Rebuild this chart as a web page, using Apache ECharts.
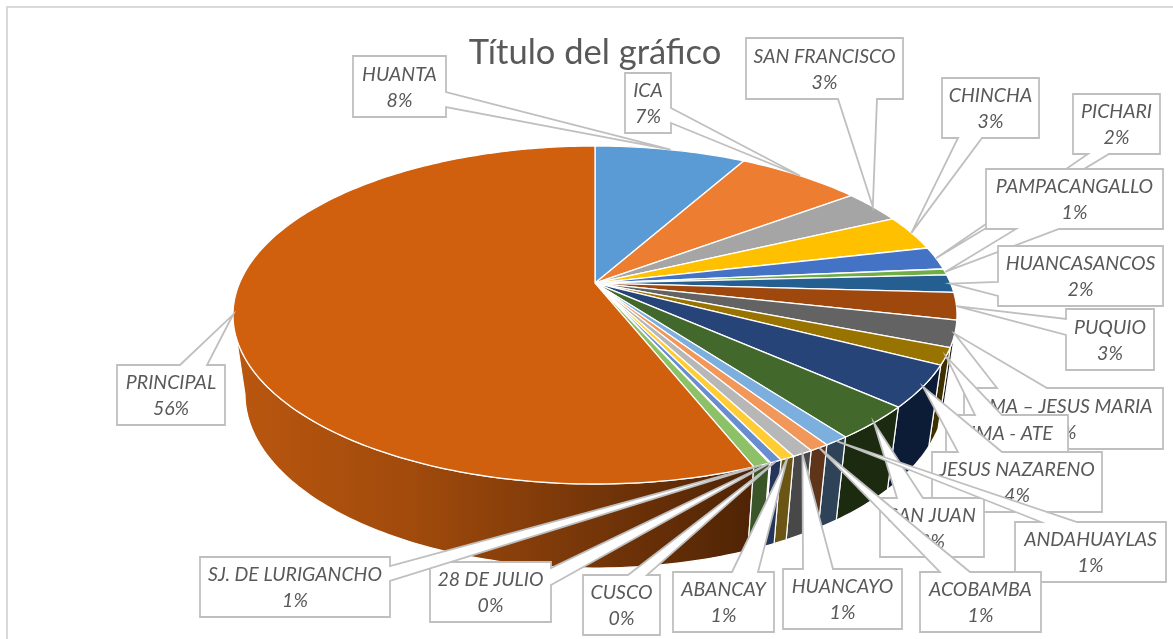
<!DOCTYPE html>
<html><head><meta charset="utf-8">
<style>html,body{margin:0;padding:0;background:#fff}#c{width:1173px;height:639px}</style>
<script src="https://cdn.jsdelivr.net/npm/echarts@6/dist/echarts.min.js"></script>
</head><body><div id="c"></div>
<script>
// ---- data ----
const names = ['HUANTA','ICA','SAN FRANCISCO','CHINCHA','PICHARI','PAMPACANGALLO','HUANCASANCOS','PUQUIO','LIMA – JESUS MARIA','LIMA - ATE','JESUS NAZARENO','SAN JUAN','ANDAHUAYLAS','ACOBAMBA','HUANCAYO','ABANCAY','CUSCO','28 DE JULIO','SJ. DE LURIGANCHO','PRINCIPAL'];
const values = [8.1,6.7,3.2,3.4,2.2,0.6,1.7,2.6,2.5,1.6,4.0,3.2,0.95,0.75,0.8,0.55,0.45,0.05,0.65,56];
// ---- styles ----
const topColors = ['#5B9BD5','#ED7D31','#A5A5A5','#FFC000','#4472C4','#70AD47','#255E91','#9E480E','#636363','#997300','#264478','#43682B','#7CAFDD','#F1975A','#B7B7B7','#FFCD33','#698ED0','#8CC168','#8CC168','#D05F0E'];
const wallColors = ['#333','#333','#333','#333','#333','#333','#222','#2a1404','#222','#3f3000','#0d1c36','#1c2a10','#2e4358','#5e351a','#484848','#6b5515','#233559','#3a5528','#3a5528',null];
// ---- layout: callout box x,y,w,h and two wedge base points on its border ----
const calloutLayout = [
 [353,56,93,61, 446,92,446,107],
 [625,73,46,60, 671,108,671,123],
 [746,38,157,61, 877,99,838,99],
 [942,78,97,60, 982,138,958,138],
 [1073,94,87,60, 1109,154,1088,154],
 [986,169,177,60, 1059,229,1016,229],
 [998,246,165,60, 998,296,998,282],
 [1066,309,88,61, 1066,335,1066,319],
 [964,388,199,61, 997,388,1047,388],
 [946,415,122,61, 975,415,1002,415],
 [932,452,170,60, 958,452,1002,452],
 [880,498,104,59, 897,498,923,498],
 [1015,522,151,60, 1041,522,1077,522],
 [920,572,121,60, 940,572,970,572],
 [783,569,119,60, 803,569,833,569],
 [673,572,101,60, 732,572,758,572],
 [583,575,77,60, 628,575,647,575],
 [430,562,121,60, 551,568,551,585],
 [200,557,190,60, 390,566,390,581],
 [117,365,108,60, 180,365,207,365]
];
const TOP = {cx:595, cy:315, rx:362, ry:169, apexOffset:-0.189};
const BOTTOM = {cx:595, cy:394, rx:350, ry:174, apexOffset:-0.184};
const total = values.reduce((a,b)=>a+b,0);
const starts = []; let acc = 0;
values.forEach(v=>{starts.push(acc); acc+=v;});
const ang = p => p/total*2*Math.PI;
// perspective projection of a rim point at angle t (clockwise from the top)
function rim(e,t){
  const u=Math.sin(t), v=-Math.cos(t), o=e.apexOffset, d=1+v*o;
  return [e.cx+e.rx*u*Math.sqrt(1-o*o)/d, e.cy+e.ry*(v+o)/d];
}
function apex(e){return [e.cx, e.cy+e.ry*e.apexOffset];}
function arc(e,a,b){
  const n=Math.max(2,Math.ceil((b-a)/(Math.PI/180))), pts=[];
  for(let i=0;i<=n;i++) pts.push(rim(e,a+(b-a)*i/n));
  return pts;
}
function calloutPolygon(box,target){
  const [x,y,w,h,ax,ay,bx,by]=box;
  const per=(px,py)=>{
    if(Math.abs(py-y)<0.5) return px-x;
    if(Math.abs(px-x-w)<0.5) return w+py-y;
    if(Math.abs(py-y-h)<0.5) return w+h+(x+w-px);
    return 2*w+h+(y+h-py);
  };
  let s1=per(ax,ay), s2=per(bx,by), p1=[ax,ay], p2=[bx,by];
  if(s1>s2){[s1,s2]=[s2,s1];[p1,p2]=[p2,p1];}
  const corners=[[x,y,0],[x+w,y,w],[x+w,y+h,w+h],[x,y+h,2*w+h]];
  const pts=[]; let done=false;
  corners.forEach(c=>{
    if(c[2]>s1&&!done){pts.push(p1,target,p2);done=true;}
    if(c[2]<=s1||c[2]>=s2) pts.push([c[0],c[1]]);
  });
  if(!done) pts.push(p1,target,p2);
  return pts;
}
const sliceData = values.map((v,i)=>[i,v]);
const option = {
  animation:false,
  backgroundColor:'#fff',
  title:{text:'Título del gráfico',left:590,top:30,textAlign:'center',
    textStyle:{fontFamily:'Lato',fontSize:34.5,fontWeight:'normal',color:'#595959'}},
  graphic:[{type:'polyline',silent:true,shape:{points:[[7,639],[7,7],[1173,7]]},style:{stroke:'#D9D9D9',lineWidth:2,fill:null}}],
  series:[
   {type:'custom',coordinateSystem:'none',silent:true,z:2,data:sliceData,
    renderItem(p,api){
      const i=api.value(0), a=ang(starts[i]), b=ang(starts[i]+api.value(1));
      const e=Math.min(b,ang(total*0.72));
      if(a>=e) return {type:'group'};
      const pts=arc(TOP,a,e).concat(arc(BOTTOM,a,e).reverse());
      const mid=(a+e)/2;
      const fill=wallColors[i]||new echarts.graphic.LinearGradient(0,0,1,0,[
        {offset:0,color:'#BA570F'},{offset:0.35,color:'#A04A0C'},{offset:0.75,color:'#6E3208'},{offset:1,color:'#4E2405'}]);
      return {type:'polygon',z2:Math.round(-Math.cos(mid)*100)+100,shape:{points:pts},
        style:{fill,stroke:'#fff',lineWidth:1.2,lineJoin:'round'}};
    }},
   {type:'custom',coordinateSystem:'none',silent:true,z:3,data:sliceData,
    renderItem(p,api){
      const i=api.value(0), a=ang(starts[i]), b=ang(starts[i]+api.value(1));
      const pts=[apex(TOP)].concat(arc(TOP,a,b));
      return {type:'polygon',shape:{points:pts},
        style:{fill:topColors[i],stroke:'#fff',lineWidth:1.3,lineJoin:'round'}};
    }},
   {type:'custom',coordinateSystem:'none',silent:true,z:4,data:sliceData,
    renderItem(p,api){
      const i=api.value(0), v=api.value(1), box=calloutLayout[i];
      const target=rim(TOP,ang(starts[i]+v/2));
      return {type:'group',children:[
        {type:'polygon',shape:{points:calloutPolygon(box,target)},
          style:{fill:'#fff',stroke:'#BFBFBF',lineWidth:1.8,lineJoin:'miter'}},
        {type:'text',style:{x:box[0]+box[2]/2,y:box[1]+box[3]/2+1,text:names[i]+'\n'+Math.round(v/total*100)+'%',
          align:'center',verticalAlign:'middle',font:'italic 19.5px Lato',lineHeight:26,fill:'#595959'}}
      ]};
    }}
  ]
};
echarts.init(document.getElementById('c'),null,{renderer:'canvas'}).setOption(option);
</script></body></html>
